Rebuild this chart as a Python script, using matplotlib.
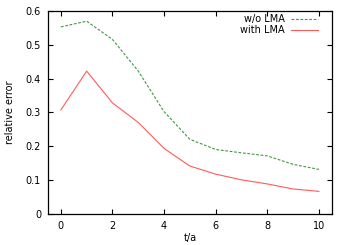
import matplotlib
matplotlib.use('Agg')
import matplotlib.pyplot as plt

# data
t = [0, 1, 2, 3, 4, 5, 6, 7, 8, 9, 10]
err_wo_lma = [0.553, 0.570, 0.516, 0.422, 0.302, 0.220, 0.190, 0.180, 0.171, 0.146, 0.131]
err_with_lma = [0.307, 0.422, 0.328, 0.270, 0.193, 0.141, 0.117, 0.100, 0.088, 0.073, 0.066]

fig = plt.figure(figsize=(3.5, 2.45), dpi=100)
ax = fig.add_axes([0.137, 0.128, 0.811, 0.827])

ax.plot(t, err_wo_lma, color='#3f993f', lw=0.8, ls=(0, (2.5, 1.5)), label='w/o LMA')
ax.plot(t, err_with_lma, color='#ff5a5a', lw=0.8, label='with LMA')

ax.set_xlim(-0.5, 10.5)
ax.set_ylim(0, 0.6)
ax.set_xticks([0, 2, 4, 6, 8, 10])
ax.set_yticks([0, 0.1, 0.2, 0.3, 0.4, 0.5, 0.6])
ax.set_yticklabels(['0', '0.1', '0.2', '0.3', '0.4', '0.5', '0.6'])
ax.tick_params(direction='in', top=True, right=True, length=3.5, width=0.8,
               labelsize=7, pad=5)
for s in ax.spines.values():
    s.set_linewidth(0.9)

ax.set_xlabel('t/a', fontsize=7, labelpad=2)
ax.set_ylabel('relative error', fontsize=7, labelpad=8)

ax.legend(loc='upper right', bbox_to_anchor=(0.965, 1.0), frameon=False,
          markerfirst=False, fontsize=7, handlelength=2.8, handletextpad=0.7,
          labelspacing=0.05, borderaxespad=0.1, borderpad=0.25)

plt.savefig('out.png', dpi=100)
